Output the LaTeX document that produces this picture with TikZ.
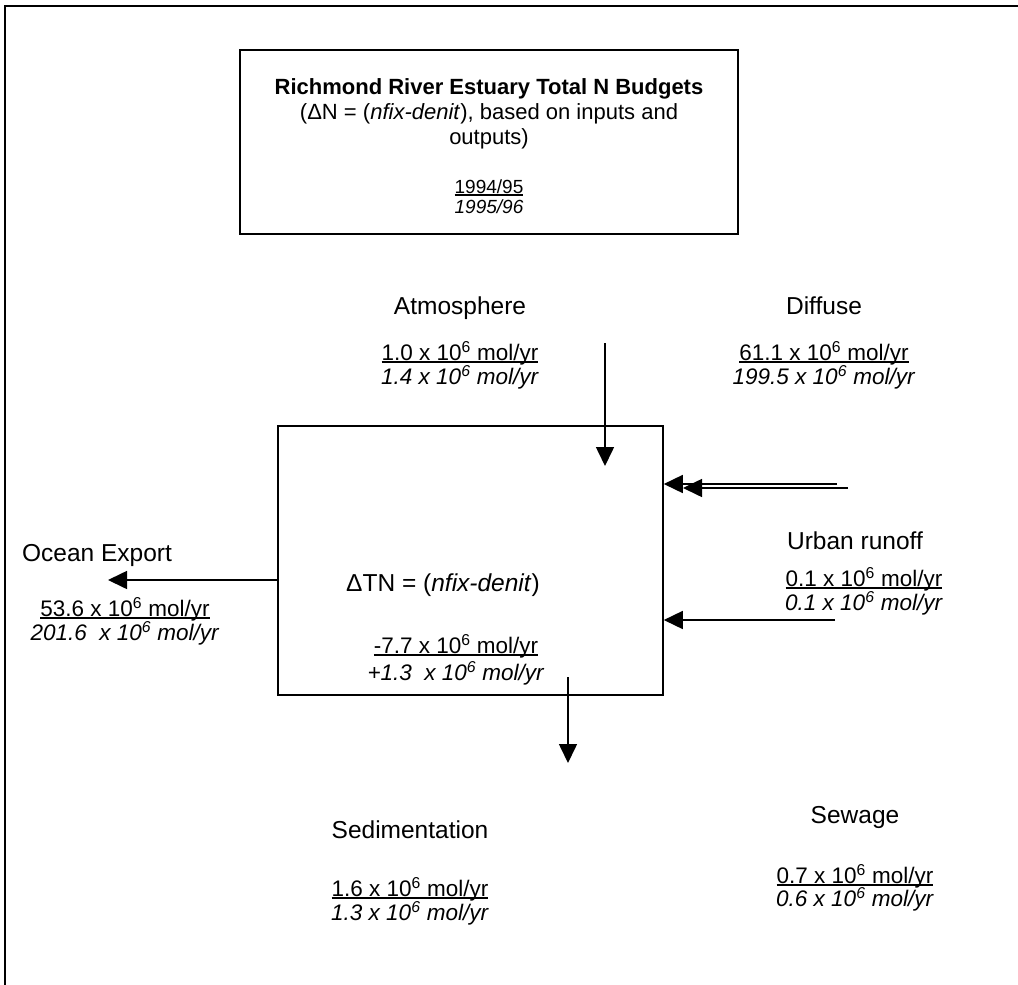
\documentclass[tikz,border=0pt]{standalone}
\usepackage{fontspec}
\setmainfont{Liberation Sans}
\usetikzlibrary{arrows.meta}
\newcommand\ulx[1]{\setbox0\hbox{#1}\rlap{\rule[-2.6pt]{\wd0}{1.4pt}}\box0}
\begin{document}
\begin{tikzpicture}[x=1pt,y=-1pt,
  lbl/.style={font=\fontsize{24.5}{28}\selectfont, inner sep=0pt, anchor=base},
  val/.style={font=\fontsize{22.5}{26}\selectfont, inner sep=0pt, anchor=base},
  ttl/.style={font=\fontsize{22}{26}\selectfont, inner sep=0pt, anchor=base},
  yr/.style={font=\fontsize{19}{22}\selectfont, inner sep=0pt, anchor=base},
  frame/.style={line width=2pt},
  boxline/.style={line width=1.6pt},
  arr/.style={line width=1.6pt, -{Triangle[length=19pt,width=18pt]}}
]
\useasboundingbox (0,0) rectangle (1018,985);
% outer frame (top and left edges)
\coordinate (f1) at (5,985);
\coordinate (f2) at (5,6);
\coordinate (f3) at (1018,6);
\draw[frame] (f1) -- (f2) -- (f3);

% title box
\node[draw, boxline, minimum width=498pt, minimum height=184pt, inner sep=0pt] (title) at (489,142) {};
\node[ttl, font=\fontsize{22}{26}\selectfont\bfseries] (t1) at (489,94) {Richmond River Estuary Total N Budgets};
\node[ttl] (t2) at (489,119) {(ΔN = (\textit{nfix-denit}), based on inputs and};
\node[ttl] (t3) at (489,144) {outputs)};
\node[yr] (y1) at (489,193) {\ulx{1994/95}};
\node[yr] (y2) at (489,213) {\textit{1995/96}};

% atmosphere
\node[lbl] (atm) at (460,314) {Atmosphere};
\node[val] (atm1) at (460,360) {\ulx{1.0 x 10\textsuperscript{6} mol/yr}};
\node[val] (atm2) at (460,384) {\textit{1.4 x 10\textsuperscript{6} mol/yr}};

% diffuse
\node[lbl] (dif) at (824,314) {Diffuse};
\node[val] (dif1) at (824,360) {\ulx{61.1 x 10\textsuperscript{6} mol/yr}};
\node[val] (dif2) at (824,384) {\textit{199.5 x 10\textsuperscript{6} mol/yr}};

% main box
\node[draw, boxline, minimum width=385pt, minimum height=269pt, inner sep=0pt] (box) at (470.5,560.5) {};
\node[lbl] (dtn) at (443,591) {ΔTN = (\textit{nfix-denit})};
\node[val] (dtn1) at (456,653) {\ulx{-7.7 x 10\textsuperscript{6} mol/yr}};
\node[val] (dtn2) at (456,680) {\textit{+1.3\ \ x 10\textsuperscript{6} mol/yr}};

% urban runoff
\node[lbl] (urb) at (855,549) {Urban runoff};
\node[val] (urb1) at (864,586) {\ulx{0.1 x 10\textsuperscript{6} mol/yr}};
\node[val] (urb2) at (864,610) {\textit{0.1 x 10\textsuperscript{6} mol/yr}};

% ocean export
\node[lbl] (oce) at (97,561) {Ocean Export};
\node[val] (oce1) at (125,616) {\ulx{53.6 x 10\textsuperscript{6} mol/yr}};
\node[val] (oce2) at (125,640) {\textit{201.6\ \ x 10\textsuperscript{6} mol/yr}};

% sedimentation
\node[lbl] (sed) at (410,838) {Sedimentation};
\node[val] (sed1) at (410,896) {\ulx{1.6 x 10\textsuperscript{6} mol/yr}};
\node[val] (sed2) at (410,920) {\textit{1.3 x 10\textsuperscript{6} mol/yr}};

% sewage
\node[lbl] (sew) at (855,823) {Sewage};
\node[val] (sew1) at (855,883) {\ulx{0.7 x 10\textsuperscript{6} mol/yr}};
\node[val] (sew2) at (855,906) {\textit{0.6 x 10\textsuperscript{6} mol/yr}};

% arrows
\coordinate (atmS) at (605,343);
\coordinate (atmT) at (605,466);
\draw[arr] (atmS) -- (atmT);

\coordinate (d1S) at (837,484);
\coordinate (d1T) at (box.east |- 0,484);
\draw[arr] (d1S) -- (d1T);
\coordinate (d2S) at (848,488);
\coordinate (d2T) at (683,488);
\draw[arr] (d2S) -- (d2T);

\coordinate (swS) at (835,620);
\coordinate (swT) at (box.east |- 0,620);
\draw[arr] (swS) -- (swT);

\coordinate (ocS) at (box.west |- 0,580);
\coordinate (ocT) at (108,580);
\draw[arr] (ocS) -- (ocT);

\coordinate (sdS) at (568,677);
\coordinate (sdT) at (568,763);
\draw[arr] (sdS) -- (sdT);
\end{tikzpicture}
\end{document}
